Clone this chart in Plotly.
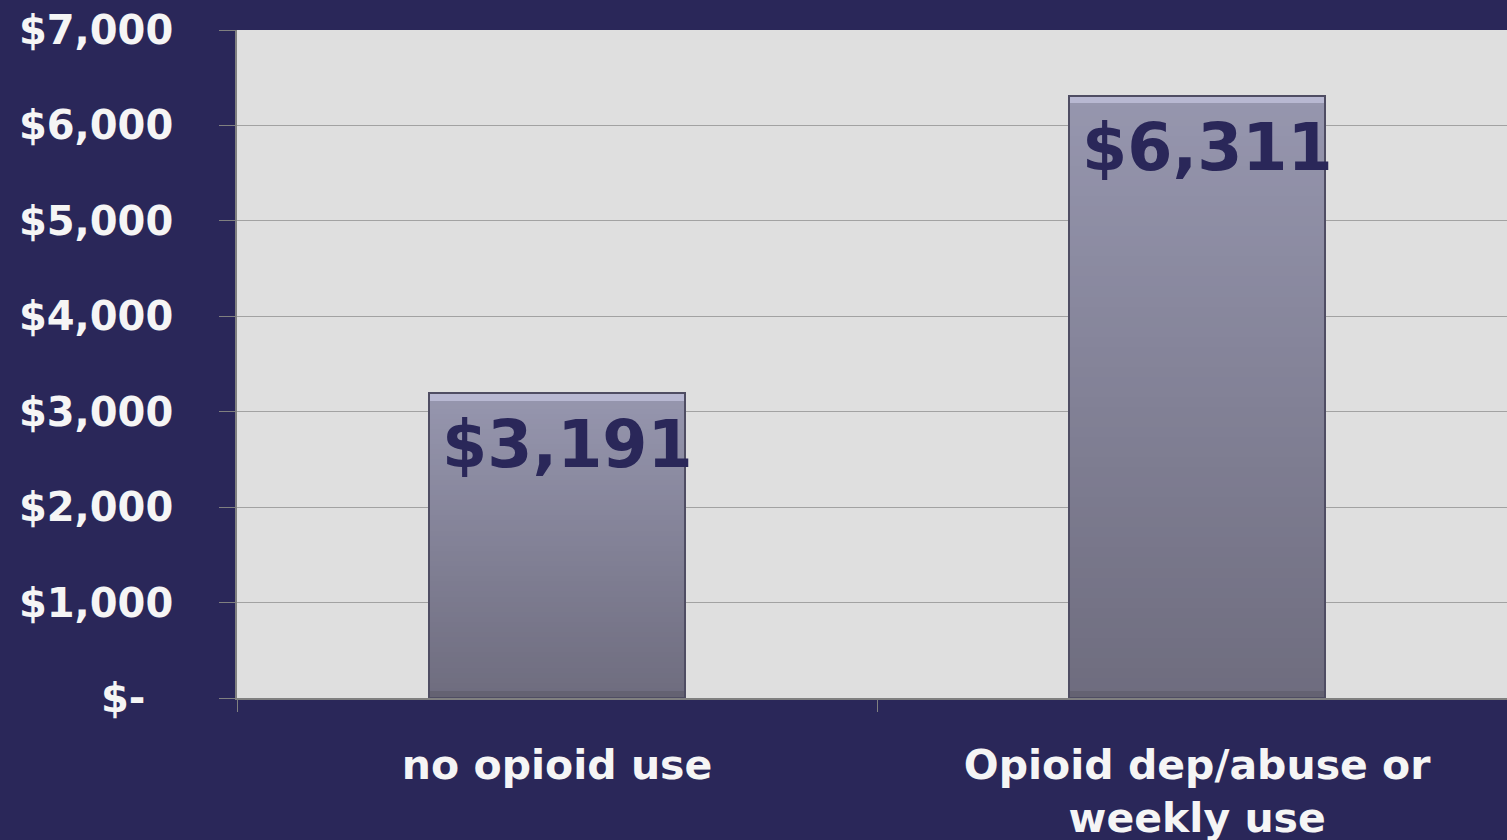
import plotly.graph_objects as go

# Chart data
categories = ["no opioid use", "Opioid dep/abuse or<br>weekly use"]
costs = [3191, 6311]
ytick_vals = [0, 1000, 2000, 3000, 4000, 5000, 6000, 7000]
ytick_text = ["$-\u00a0\u00a0", "$1,000", "$2,000", "$3,000", "$4,000", "$5,000", "$6,000", "$7,000"]

NAVY = "#2a2759"
FONT = "DejaVu Sans"
BAR_WIDTH = 0.4


def mix(c1, c2, t):
    return "rgb({},{},{})".format(*[round(a + (b - a) * t) for a, b in zip(c1, c2)])


TOP_RGB = (150, 150, 174)
BOTTOM_RGB = (110, 108, 126)

fig = go.Figure()

# Vertical gradient: overlapping bars, tallest (lightest) first
steps = 60
for i in range(steps):
    frac = (steps - i) / steps
    fig.add_trace(go.Bar(
        x=categories,
        y=[v * frac for v in costs],
        width=BAR_WIDTH,
        marker=dict(color=mix(BOTTOM_RGB, TOP_RGB, frac), line=dict(width=0)),
        hoverinfo="skip",
        showlegend=False,
    ))

# Light bevel strip along the top of each bar
bevel = 75
fig.add_trace(go.Bar(
    x=categories,
    y=[bevel] * len(costs),
    base=[v - bevel for v in costs],
    width=BAR_WIDTH,
    marker=dict(color="rgb(184,184,210)", line=dict(width=0)),
    hoverinfo="skip",
    showlegend=False,
))

# Darker strip along the bottom of each bar
fig.add_trace(go.Bar(
    x=categories,
    y=[bevel] * len(costs),
    width=BAR_WIDTH,
    marker=dict(color="rgb(100,98,114)", line=dict(width=0)),
    hoverinfo="skip",
    showlegend=False,
))

# Outline of each bar
fig.add_trace(go.Bar(
    x=categories,
    y=costs,
    width=BAR_WIDTH,
    marker=dict(color="rgba(0,0,0,0)", line=dict(color="#4f4d63", width=2)),
    showlegend=False,
))

# Value labels inside the top of each bar
for cat, v in zip(categories, costs):
    fig.add_annotation(
        x=cat, y=v, text=f"${v:,}",
        xanchor="center", yanchor="top",
        xshift=10, yshift=-12,
        showarrow=False,
        font=dict(family=FONT, size=65, color=NAVY, weight="bold"),
    )

fig.update_layout(
    width=1507, height=840,
    margin=dict(l=237, r=0, t=30, b=142),
    paper_bgcolor=NAVY,
    plot_bgcolor="#dfdfdf",
    barmode="overlay",
    bargap=0,
    showlegend=False,
    font=dict(family=FONT, color="#f5f5f5", weight="bold"),
)

fig.update_yaxes(
    range=[0, 7000],
    tickvals=ytick_vals,
    ticktext=ytick_text,
    tickfont=dict(family=FONT, size=40, color="#f5f5f5", weight="bold"),
    showgrid=True, gridcolor="#a2a2a2", gridwidth=1,
    showline=True, linecolor="#808080", linewidth=1.5,
    ticks="outside", ticklen=16, tickcolor="#808080", tickwidth=1,
    ticklabelstandoff=38,
    zeroline=False,
    automargin=False,
)

# The right-hand category runs slightly past the right edge of the page
fig.update_xaxes(
    range=[-0.5, 1.484],
    tickfont=dict(family=FONT, size=41, color="#f5f5f5", weight="bold"),
    showgrid=False,
    showline=True, linecolor="#808080", linewidth=1.5,
    ticks="outside", ticklen=12, tickcolor="#808080", tickwidth=1,
    tickson="boundaries",
    ticklabelstandoff=30,
    automargin=False,
)

fig.write_html("out.html")
